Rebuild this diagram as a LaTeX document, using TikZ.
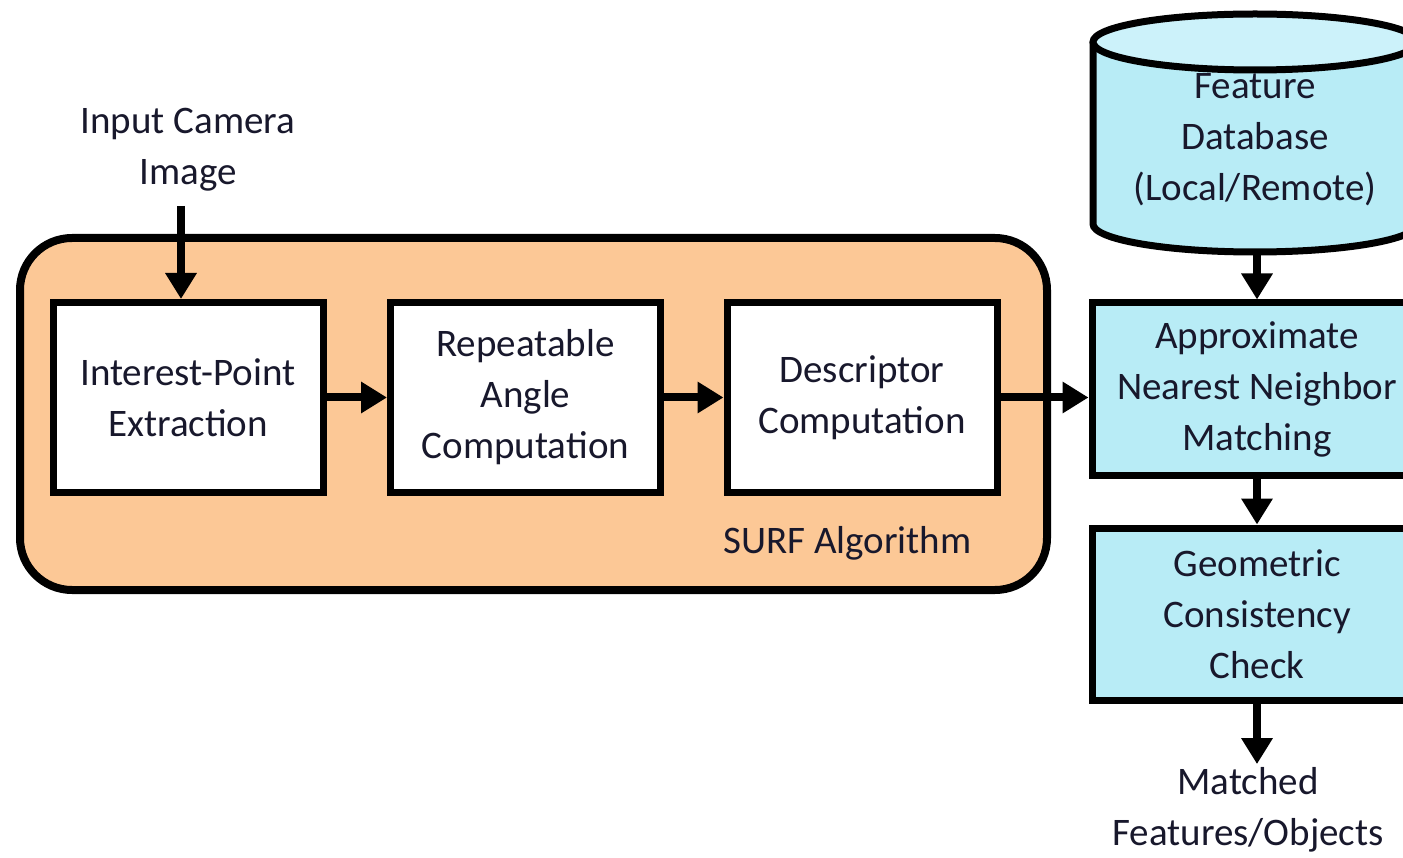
\documentclass[tikz,border=0pt]{standalone}
\usepackage{fontspec}
\setmainfont{Carlito}
\usetikzlibrary{arrows.meta}
\definecolor{surffill}{RGB}{252,200,150}
\definecolor{dbfill}{RGB}{184,236,246}
\definecolor{dbtop}{RGB}{204,242,250}
\definecolor{txt}{RGB}{24,24,44}
\tikzset{
  x=1pt, y=-1pt,
  every node/.style={font=\fontsize{39}{51}\selectfont, text=txt, align=center},
  stage/.style={draw=black, line width=7pt, fill=white, minimum width=270pt, minimum height=190pt, inner sep=0pt},
  matchbox/.style={draw=black, line width=7pt, fill=dbfill, minimum width=330pt, minimum height=172pt, inner sep=0pt},
  flow/.style={line width=8pt, -{Triangle[length=26pt,width=30pt]}},
}
\begin{document}
\begin{tikzpicture}
\useasboundingbox (0,0) rectangle (1403,858);

% SURF container
\draw[line width=8pt, fill=surffill, rounded corners=52pt] (20,238) rectangle (1047,590);
\node[anchor=east] (surf) at (975,543) {SURF Algorithm};

% SURF stages
\node[stage] (ipe) at (188,397.5) {Interest-Point\\Extraction};
\node[stage] (rac) at (525.5,397.5) {Repeatable\\Angle\\Computation};
\node[stage] (dc)  at (862,397.5) {Descriptor\\Computation};

% input
\node (in) at (188,150) {Input Camera\\Image};
\coordinate (inend) at (181,206);
\draw[flow] (inend) -- (ipe.north -| inend);

% feature database cylinder
\fill[dbfill] (1093,42) -- (1093,224) arc[start angle=180, end angle=0, x radius=162, y radius=28] -- (1417,42) -- cycle;
\draw[line width=7pt] (1093,42) -- (1093,224) arc[start angle=180, end angle=0, x radius=162, y radius=28] -- (1417,42);
\draw[line width=7pt, fill=dbtop] (1255,42) ellipse[x radius=162, y radius=28];
\node (db) at (1255,140) {Feature\\Database\\(Local/Remote)};
\coordinate (dbbot) at (1257,252);

% matching chain
\node[matchbox] (ann) at (1257,389) {Approximate\\Nearest Neighbor\\Matching};
\node[matchbox] (geo) at (1257,614) {Geometric\\Consistency\\Check};
\node (out) at (1248,810) {Matched\\Features/Objects};

% connectors
\draw[flow] (ipe.east) -- (rac.west);
\draw[flow] (rac.east) -- (dc.west);
\draw[flow] (dc.east) -- (dc.east -| ann.west);
\draw[flow] (dbbot) -- (ann.north);
\draw[flow] (ann.south) -- (geo.north);
\draw[flow] (geo.south) -- (geo.south |- out.north);
\end{tikzpicture}
\end{document}
